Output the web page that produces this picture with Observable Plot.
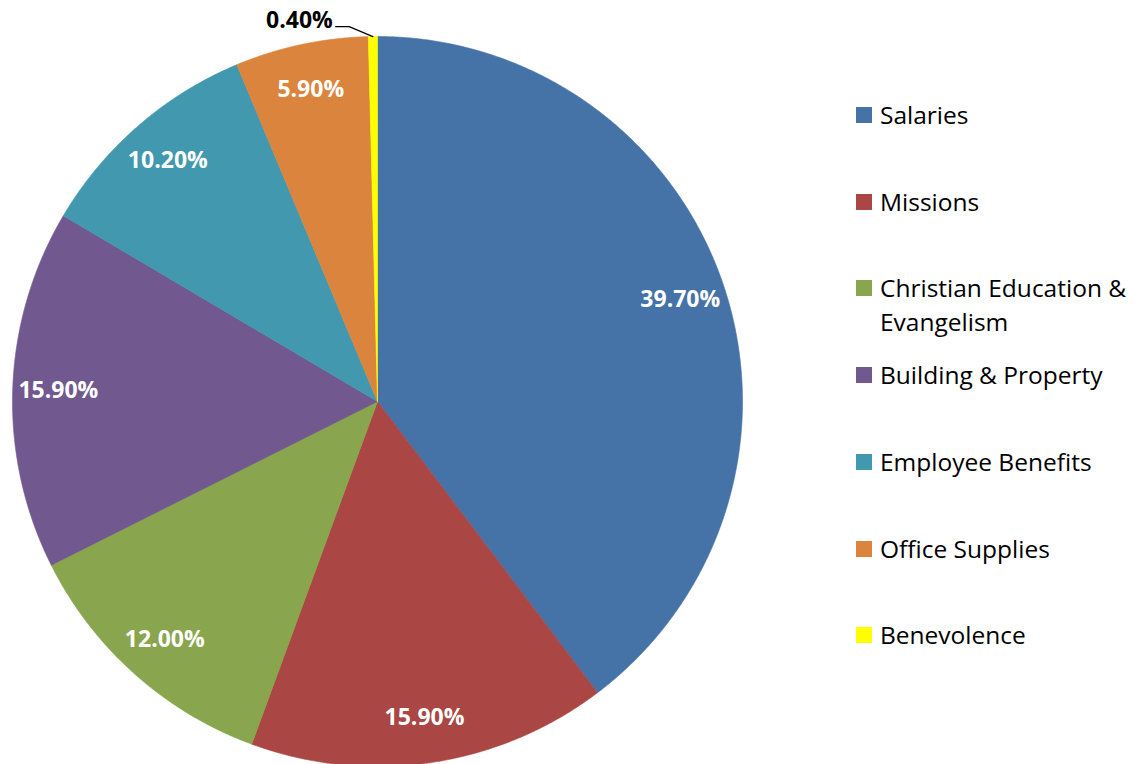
<!DOCTYPE html>
<html>
<head>
<meta charset="utf-8">
<script src="https://cdn.jsdelivr.net/npm/d3@7"></script>
<script src="https://cdn.jsdelivr.net/npm/@observablehq/plot@0.6"></script>
<style>
  html, body { margin: 0; padding: 0; background: #fff; }
  #wrap { position: relative; width: 1147px; height: 764px; overflow: hidden; }
  #chart svg { display: block; }
  .lg-item { position: absolute; left: 856px; font-family: "Open Sans", sans-serif; font-size: 24.5px; line-height: 34px; color: #000; width: 291px; white-space: nowrap; }
  .lg-sw { position: absolute; left: 0; top: 9px; width: 16px; height: 16px; }
  .lg-tx { margin-left: 24px; }
</style>
</head>
<body>
<div id="wrap"><div id="chart"></div><div id="legend"></div></div>
<script>
const categories = ["Salaries", "Missions", "Christian Education & Evangelism", "Building & Property", "Employee Benefits", "Office Supplies", "Benevolence"];
const legendLabels = ["Salaries", "Missions", "Christian Education &\nEvangelism", "Building & Property", "Employee Benefits", "Office Supplies", "Benevolence"];
const values = [39.7, 15.9, 12.0, 15.9, 10.2, 5.9, 0.4];
const colors = ["#4572A7", "#AA4643", "#89A54E", "#71588F", "#4198AF", "#DB843D", "#FFFF00"];

const data = categories.map((c, i) => ({category: c, value: values[i]}));
const arcs = d3.pie().sort(null).value(d => d.value)(data);

// Slice outlines (centre + arc samples) derived from the pie angles
const slicePts = [];
for (const a of arcs) {
  slicePts.push({category: a.data.category, x: 0, y: 0});
  const n = Math.max(4, Math.ceil((a.endAngle - a.startAngle) / 0.004));
  for (let k = 0; k <= n; k++) {
    const t = a.startAngle + (a.endAngle - a.startAngle) * k / n;
    slicePts.push({category: a.data.category, x: Math.sin(t), y: Math.cos(t)});
  }
  slicePts.push({category: a.data.category, x: 0, y: 0});
}

const fmt = v => v.toFixed(2) + "%";
const inside = arcs.filter(a => a.data.value >= 2).map(a => {
  const m = (a.startAngle + a.endAngle) / 2;
  return {label: fmt(a.data.value), x: 0.875 * Math.sin(m), y: 0.875 * Math.cos(m)};
});
const small = arcs.filter(a => a.data.value < 2).map(a => {
  const m = (a.startAngle + a.endAngle) / 2;
  return {label: fmt(a.data.value), rx: Math.sin(m), ry: Math.cos(m)};
});
const leader = small.flatMap(s => [
  {x: s.rx - 0.102, y: s.ry + 0.027},
  {x: s.rx - 0.065, y: s.ry + 0.027},
  {x: s.rx, y: s.ry}
]);
const outside = small.map(s => ({label: s.label, x: s.rx - 0.11, y: s.ry + 0.044}));

const cx = 377, cy = 401, R = 365;
const chart = Plot.plot({
  width: 1147,
  height: 764,
  margin: 0,
  x: {domain: [-1, 1], range: [cx - R, cx + R], axis: null},
  y: {domain: [-1, 1], range: [cy + R, cy - R], axis: null},
  color: {type: "ordinal", domain: categories, range: colors},
  style: {background: "#fff", overflow: "visible"},
  marks: [
    Plot.line(slicePts, {x: "x", y: "y", z: "category", fill: "category", stroke: "category", strokeWidth: 0.6, curve: "linear"}),
    Plot.text(inside, {x: "x", y: "y", text: "label", fill: "white", fontSize: 23, fontWeight: "bold", fontFamily: "Open Sans, sans-serif"}),
    Plot.line(leader, {x: "x", y: "y", stroke: "black", strokeWidth: 1.3}),
    Plot.text(outside, {x: "x", y: "y", text: "label", fill: "black", textAnchor: "end", fontSize: 23, fontWeight: "bold", fontFamily: "Open Sans, sans-serif"})
  ]
});
document.getElementById("chart").appendChild(chart);

const legend = document.getElementById("legend");
legendLabels.forEach((lab, i) => {
  const item = document.createElement("div");
  item.className = "lg-item";
  item.style.top = (115 + i * 86.7 - 17) + "px";
  const sw = document.createElement("div");
  sw.className = "lg-sw";
  sw.style.background = colors[i];
  const tx = document.createElement("div");
  tx.className = "lg-tx";
  tx.innerHTML = lab.split("\n").join("<br>");
  item.appendChild(sw);
  item.appendChild(tx);
  legend.appendChild(item);
});
</script>
</body>
</html>
